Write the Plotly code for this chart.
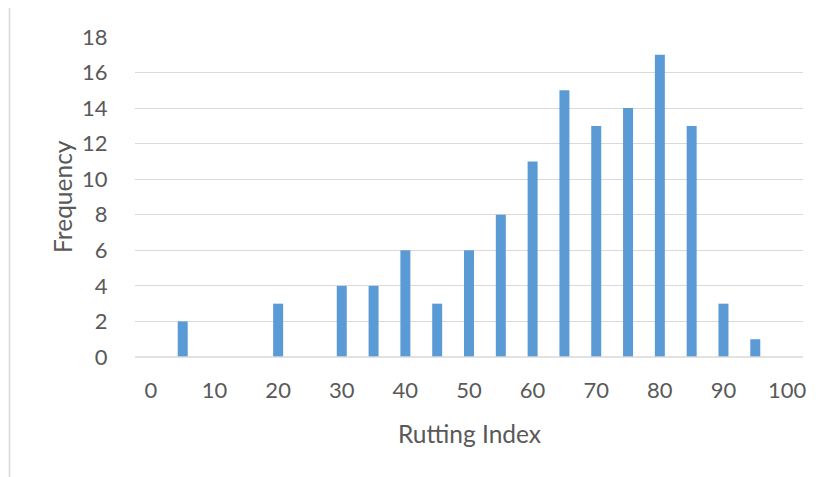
import plotly.graph_objects as go

bins = [0, 5, 10, 15, 20, 25, 30, 35, 40, 45, 50, 55, 60, 65, 70, 75, 80, 85, 90, 95, 100]
frequency = [0, 2, 0, 0, 3, 0, 4, 4, 6, 3, 6, 8, 11, 15, 13, 14, 17, 13, 3, 1, 0]
x_ticks = [0, 10, 20, 30, 40, 50, 60, 70, 80, 90, 100]
y_ticks = [0, 2, 4, 6, 8, 10, 12, 14, 16, 18]

# page body has an 8px default margin; work in window pixels and shift
OX, OY = 8, 8
W, H = 823 - OX, 477 - OY
L, R, T, B = 135, 803, 37, 357  # plot area in window pixels
pw, ph = R - L, B - T

def px(xp):
    return (xp - L) / pw

def py(yp):
    return (B - yp) / ph

font_family = "Lato, 'Open Sans', sans-serif"
txt = "#595959"
grid = "#d9d9d9"

fig = go.Figure()
fig.add_trace(go.Bar(x=bins, y=frequency, width=1.57, marker=dict(color="#5b9bd5", line=dict(width=0))))

fig.update_layout(
    width=W, height=H,
    margin=dict(l=L - OX, r=(W + OX) - R, t=T - OY, b=(H + OY) - B),
    paper_bgcolor="white", plot_bgcolor="white",
    showlegend=False,
    font=dict(family=font_family, size=22, color=txt),
    xaxis=dict(range=[-2.5, 102.5], tickvals=x_ticks, ticktext=[str(v) for v in x_ticks],
               showgrid=False, zeroline=False, showline=False,
               ticks="outside", ticklen=14, tickcolor="rgba(0,0,0,0)",
               tickfont=dict(size=22, color=txt)),
    yaxis=dict(range=[0, 18], tickvals=y_ticks, showgrid=True, gridcolor=grid, gridwidth=1.3,
               zeroline=False, showline=False,
               ticks="outside", ticklen=22, tickcolor="rgba(0,0,0,0)",
               tickfont=dict(size=22, color=txt)),
    shapes=[
        dict(type="line", xref="paper", yref="paper", x0=px(L), x1=px(R), y0=py(B), y1=py(B),
             line=dict(color=grid, width=1.6), layer="above"),
        dict(type="line", xref="paper", yref="paper", x0=px(9.5), x1=px(830), y0=py(7), y1=py(7),
             line=dict(color=grid, width=1.6)),
        dict(type="line", xref="paper", yref="paper", x0=px(9.5), x1=px(9.5), y0=py(7), y1=py(490),
             line=dict(color=grid, width=1.6)),
    ],
    annotations=[
        dict(text="Rutting Index", xref="paper", yref="paper", x=px(469), y=py(433),
             showarrow=False, font=dict(size=24.5, color=txt), xanchor="center", yanchor="middle"),
        dict(text="Frequency", xref="paper", yref="paper", x=px(62), y=py(197), textangle=-90,
             showarrow=False, font=dict(size=24.5, color=txt), xanchor="center", yanchor="middle"),
    ],
)

fig.write_html("out.html")
